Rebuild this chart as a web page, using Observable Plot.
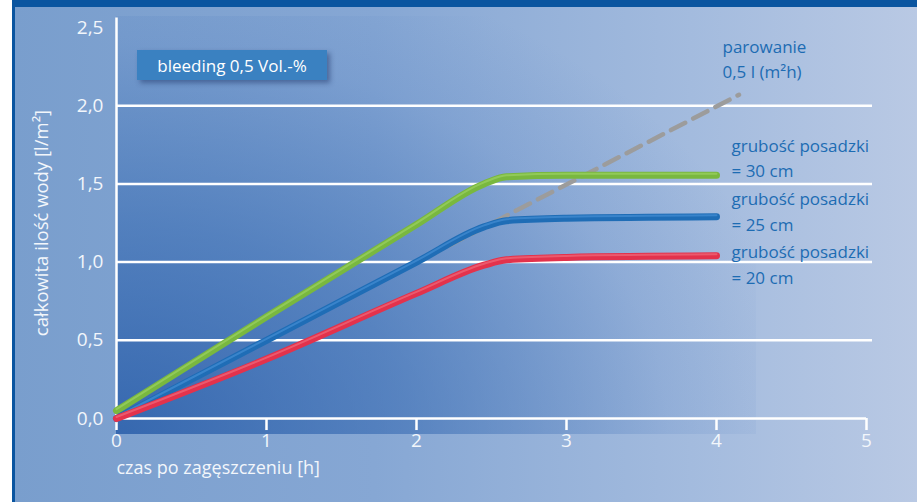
<!DOCTYPE html>
<html><head><meta charset="utf-8">
<script src="https://cdn.jsdelivr.net/npm/d3@7"></script>
<script src="https://cdn.jsdelivr.net/npm/@observablehq/plot@0.6"></script>
<style>
html,body{margin:0;padding:0;background:#fff;}
#wrap{position:relative;width:917px;height:502px;overflow:hidden;background:#fff;}
#bg{position:absolute;left:12px;top:0;right:0;bottom:0;background:linear-gradient(to right,#799ecd 0%,#86a7d4 40%,#a3bbde 75%,#b9c9e4 100%);}
#shade{position:absolute;left:116px;top:16px;width:640px;height:418px;background:radial-gradient(ellipse 115% 125% at 0% 100%, rgba(30,85,165,0.75) 0%, rgba(40,95,172,0.5) 40%, rgba(60,110,185,0.15) 75%, rgba(60,110,185,0) 95%);}
#topbar{position:absolute;left:12px;top:0;right:0;height:7px;background:#0a55a0;}
#leftbar{position:absolute;left:12px;top:0;width:3px;bottom:0;background:#0a55a0;}
#chart{position:absolute;left:0;top:0;}
#box{position:absolute;left:137px;top:50px;width:190px;height:30px;background:#3a81c1;color:#fff;font:17px "Open Sans",sans-serif;display:flex;align-items:center;justify-content:center;box-shadow:3px 3px 5px rgba(20,40,90,0.45);}
</style>
</head><body>
<div id="wrap">
  <div id="bg"></div>
  <div id="shade"></div>
  <div id="topbar"></div>
  <div id="leftbar"></div>
  <div id="chart"></div>
  <div id="box">bleeding 0,5 Vol.-%</div>
</div>
<script>
// ---- data ----
const hours = [0, 1, 2, 2.45, 2.6, 3, 4];
const thick30 = [0.05, 0.65, 1.24, 1.50, 1.545, 1.555, 1.555];
const thick25 = [0, 0.5, 1.0, 1.225, 1.265, 1.28, 1.29];
const thick20 = [0, 0.38, 0.8, 0.98, 1.015, 1.03, 1.04];
const evapHours = [0, 4.15];
const evapValues = [0, 2.07];
const xTicks = [0, 1, 2, 3, 4, 5];
const yTicks = [0, 0.5, 1, 1.5, 2, 2.5];
const gridValues = [0.5, 1, 1.5, 2];
const xLabel = "czas po zagęszczeniu [h]";
const yLabel = "całkowita ilość wody [l/m²]";
const annoText = ["parowanie", "0,5 l (m²h)", "grubość posadzki", "= 30 cm", "grubość posadzki", "= 25 cm", "grubość posadzki", "= 20 cm"];
const annoX = [4.04, 4.04, 4.1, 4.1, 4.1, 4.1, 4.1, 4.1];
const annoY = [2.372, 2.212, 1.737, 1.577, 1.397, 1.231, 1.064, 0.897];

const mk = (vals) => hours.map((h, i) => ({h: h, v: vals[i]}));
const series = [
  {data: mk(thick30), color: "#79b83f", hi: "#a6d86e"},
  {data: mk(thick25), color: "#1f6db6", hi: "#4f98dc"},
  {data: mk(thick20), color: "#e3324c", hi: "#f27a89"}
];
const evap = evapHours.map((h, i) => ({h: h, v: evapValues[i]}));
const annos = annoText.map((t, i) => ({t: t, x: annoX[i], y: annoY[i]}));
const fmt = d => d.toFixed(1).replace(".", ",");
const tickFont = "'Liberation Sans Narrow', 'Open Sans', sans-serif";

const marks = [
  Plot.ruleY(gridValues, {x1: 0, x2: 5.04, stroke: "#fff", strokeWidth: 2.5}),
  Plot.ruleY([0], {x1: 0, x2: 5, stroke: "#fff", strokeWidth: 2.5}),
  Plot.ruleX(xTicks.slice(1), {y1: 0, y2: -0.077, stroke: "#fff", strokeWidth: 2.5}),
  Plot.ruleX([0], {y1: 2.56, y2: -0.077, stroke: "#fff", strokeWidth: 2.5}),
  Plot.axisX({ticks: xTicks, tickSize: 0, tickPadding: 15, label: null, tickFormat: d => String(d), fontSize: 19, fill: "#f2f6fb", fontFamily: tickFont}),
  Plot.axisY({ticks: yTicks, tickSize: 0, tickPadding: 13, label: null, tickFormat: fmt, fontSize: 19, fill: "#f2f6fb", fontFamily: tickFont}),
  Plot.text([xLabel], {frameAnchor: "bottom-left", dy: 55, textAnchor: "start", fill: "#f2f6fb", fontSize: 18, fontFamily: tickFont}),
  Plot.text([yLabel], {frameAnchor: "left", rotate: -90, dx: -74, textAnchor: "middle", fill: "#f2f6fb", fontSize: 18.5, fontFamily: tickFont}),
  Plot.line(evap, {x: "h", y: "v", stroke: "#1a3a70", strokeOpacity: 0.3, strokeWidth: 6, dx: 2, dy: 5, ariaLabel: "shadow"}),
  Plot.line(evap, {x: "h", y: "v", stroke: "#9c9c9c", strokeWidth: 4.5, strokeDasharray: "16 9", strokeLinecap: "round"})
];
for (const s of series) {
  marks.push(Plot.line(s.data, {x: "h", y: "v", curve: "monotone-x", stroke: "#0c2458", strokeOpacity: 0.35, strokeWidth: 9, dx: 2, dy: 5, strokeLinecap: "round", ariaLabel: "shadow"}));
  marks.push(Plot.line(s.data, {x: "h", y: "v", curve: "monotone-x", stroke: s.color, strokeWidth: 7, strokeLinecap: "round"}));
  marks.push(Plot.line(s.data, {x: "h", y: "v", curve: "monotone-x", stroke: s.hi, strokeWidth: 2, strokeOpacity: 0.55, dy: -1.5, strokeLinecap: "round"}));
}
marks.push(Plot.text(annos, {x: "x", y: "y", text: "t", textAnchor: "start", fill: "#1d6cb3", fontSize: 17, fontFamily: "'Open Sans', sans-serif"}));

const plot = Plot.plot({
  width: 917, height: 502,
  marginLeft: 116, marginRight: 51, marginTop: 27, marginBottom: 84,
  x: {domain: [0, 5]},
  y: {domain: [0, 2.5]},
  style: {background: "transparent", overflow: "visible"},
  marks: marks
});
// soft blur for the shadow copies (SVG filter)
const svgNS = "http://www.w3.org/2000/svg";
const defs = document.createElementNS(svgNS, "defs");
const filt = document.createElementNS(svgNS, "filter");
filt.setAttribute("id", "lineBlur");
filt.setAttribute("x", "-10%"); filt.setAttribute("y", "-10%");
filt.setAttribute("width", "120%"); filt.setAttribute("height", "120%");
const blur = document.createElementNS(svgNS, "feGaussianBlur");
blur.setAttribute("stdDeviation", "2.5");
filt.appendChild(blur);
defs.appendChild(filt);
plot.insertBefore(defs, plot.firstChild);
plot.querySelectorAll('g[aria-label="shadow"]').forEach(g => g.setAttribute("filter", "url(#lineBlur)"));
document.getElementById("chart").appendChild(plot);
</script>
</body></html>
